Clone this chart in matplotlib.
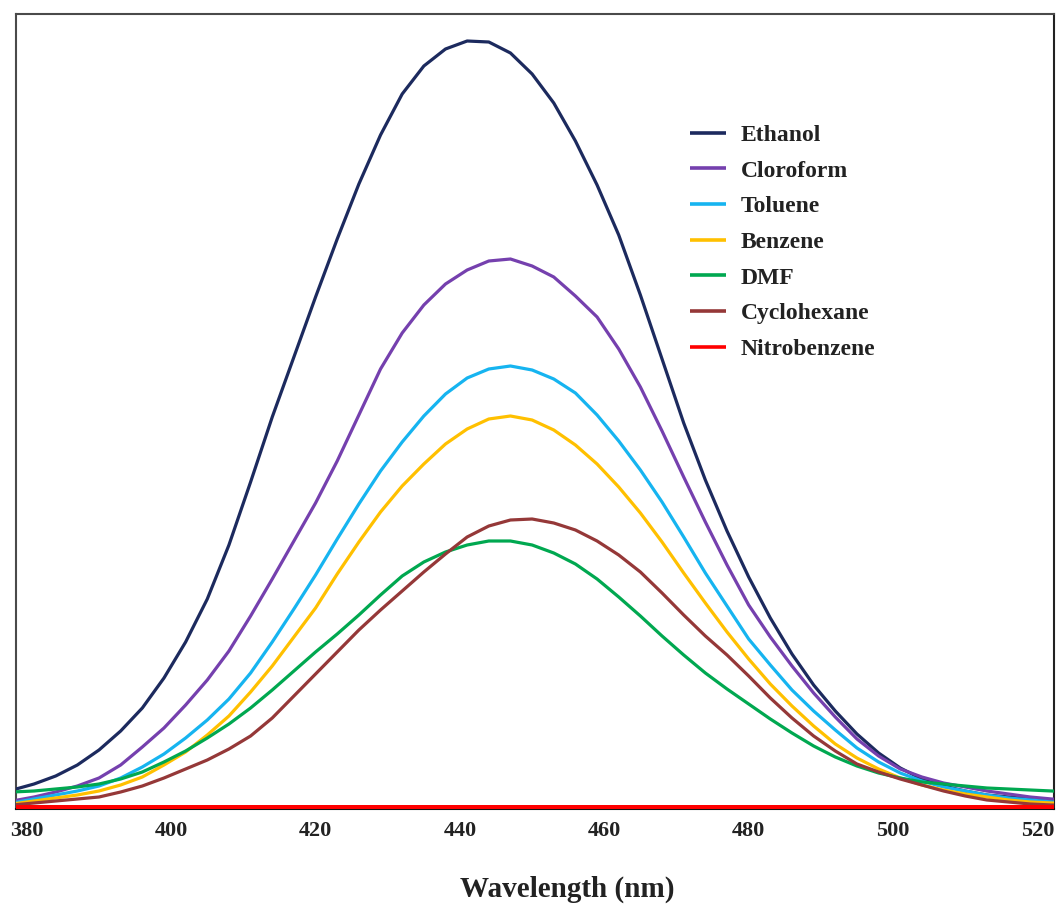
import matplotlib
matplotlib.use("Agg")
import matplotlib.pyplot as plt

# ---------------- data ----------------
wavelength = [378, 381, 384, 387, 390, 393, 396, 399, 402, 405,
              408, 411, 414, 417, 420, 423, 426, 429, 432, 435,
              438, 441, 444, 447, 450, 453, 456, 459, 462, 465,
              468, 471, 474, 477, 480, 483, 486, 489, 492, 495,
              498, 501, 504, 507, 510, 513, 516, 519, 522, 525]

ethanol = [17, 23, 31, 42, 57, 76, 99, 129, 165, 208,
           262, 325, 390, 450, 510, 568, 623, 672, 713, 741,
           758, 766, 765, 754, 733, 704, 666, 622, 572, 512,
           448, 384, 327, 276, 230, 189, 153, 122, 96, 73,
           54, 39, 28, 21, 16, 12, 10, 8, 7, 6]

cloroform = [6, 10, 15, 21, 29, 42, 60, 79, 102, 127,
             156, 191, 228, 266, 304, 346, 392, 438, 474, 502,
             523, 537, 546, 548, 541, 530, 511, 490, 458, 420,
             376, 330, 285, 242, 202, 170, 141, 114, 90, 68,
             51, 38, 30, 24, 20, 16, 13, 10, 8, 7]

toluene = [4, 8, 12, 16, 21, 29, 40, 53, 69, 87,
           108, 134, 165, 198, 232, 268, 303, 336, 365, 391,
           413, 429, 438, 441, 437, 428, 414, 392, 366, 337,
           305, 270, 234, 201, 168, 142, 117, 96, 77, 59,
           45, 34, 26, 20, 16, 12, 9, 7, 5, 5]

benzene = [3, 6, 9, 12, 16, 22, 30, 42, 55, 72,
           91, 115, 141, 170, 199, 233, 265, 295, 321, 343,
           363, 378, 388, 391, 387, 377, 362, 343, 320, 294,
           265, 234, 204, 175, 148, 123, 101, 81, 63, 49,
           38, 29, 22, 17, 13, 10, 7, 5, 4, 4]

dmf = [15, 16, 18, 20, 23, 28, 35, 45, 56, 69,
       83, 99, 117, 136, 155, 173, 192, 212, 231, 245,
       255, 262, 266, 266, 262, 254, 243, 228, 210, 191,
       171, 152, 134, 118, 103, 88, 74, 61, 50, 41,
       34, 29, 25, 23, 21, 19, 18, 17, 16, 15]

cyclohexane = [2, 4, 6, 8, 10, 15, 21, 29, 38, 47,
               58, 71, 89, 111, 133, 155, 177, 197, 216, 235,
               253, 270, 281, 287, 288, 284, 277, 266, 252, 235,
               214, 192, 171, 152, 131, 109, 89, 71, 56, 43,
               35, 28, 22, 16, 11, 7, 5, 3, 2, 2]

nitrobenzene = [0] * len(wavelength)

series_names = ["Ethanol", "Cloroform", "Toluene", "Benzene", "DMF",
                "Cyclohexane", "Nitrobenzene"]
series_values = [ethanol, cloroform, toluene, benzene, dmf, cyclohexane,
                 nitrobenzene]
series_colors = ["#1C2A5E", "#7540AE", "#16B4F0", "#FFC000", "#00A850",
                 "#953838", "#FF0000"]

x_ticks = [380, 400, 420, 440, 460, 480, 500, 520]

# ---------------- figure ----------------
W, H = 1057, 909
fig = plt.figure(figsize=(W / 100, H / 100), dpi=100)
ax = fig.add_axes([16 / W, 1 - 808.5 / H, (1054 - 16) / W, (808.5 - 14) / H])

serif = ["Liberation Serif", "DejaVu Serif"]

for name, vals, col in zip(series_names, series_values, series_colors):
    lw = 3.6 if name == "Nitrobenzene" else 2.3
    ax.plot(wavelength, vals, color=col, lw=lw, label=name,
            solid_joinstyle="round", solid_capstyle="butt",
            zorder=4 if name == "Nitrobenzene" else 3)

ax.set_xlim(378.5, 522.3)
ax.set_ylim(-1.5, 793)
ax.set_yticks([])
ax.set_xticks(x_ticks)
ax.set_xticklabels([str(t) for t in x_ticks], fontfamily=serif,
                   fontweight="bold", fontsize=16, color="#222222")
ax.tick_params(axis="x", length=0, pad=9)

for side in ["left", "top"]:
    ax.spines[side].set_color("#4a4a4a")
    ax.spines[side].set_linewidth(1.5)
ax.spines["right"].set_color("#222222")
ax.spines["right"].set_linewidth(1.5)
ax.spines["bottom"].set_color("#111111")
ax.spines["bottom"].set_linewidth(1.5)

ax.set_xlabel("Wavelength (nm)", fontfamily=serif, fontweight="bold",
              fontsize=21, color="#222222")
ax.xaxis.set_label_coords((567 - 16) / 1038, -0.085)

leg = ax.legend(loc="upper left", bbox_to_anchor=((690 - 16) / 1038, 0.861),
                frameon=False, borderpad=0, borderaxespad=0,
                handlelength=1.53, handletextpad=0.62, labelspacing=0.6,
                prop={"family": serif, "weight": "bold", "size": 17})
for line in leg.get_lines():
    line.set_linewidth(2.6)
for txt in leg.get_texts():
    txt.set_color("#222222")

fig.savefig("out.png", dpi=100)
